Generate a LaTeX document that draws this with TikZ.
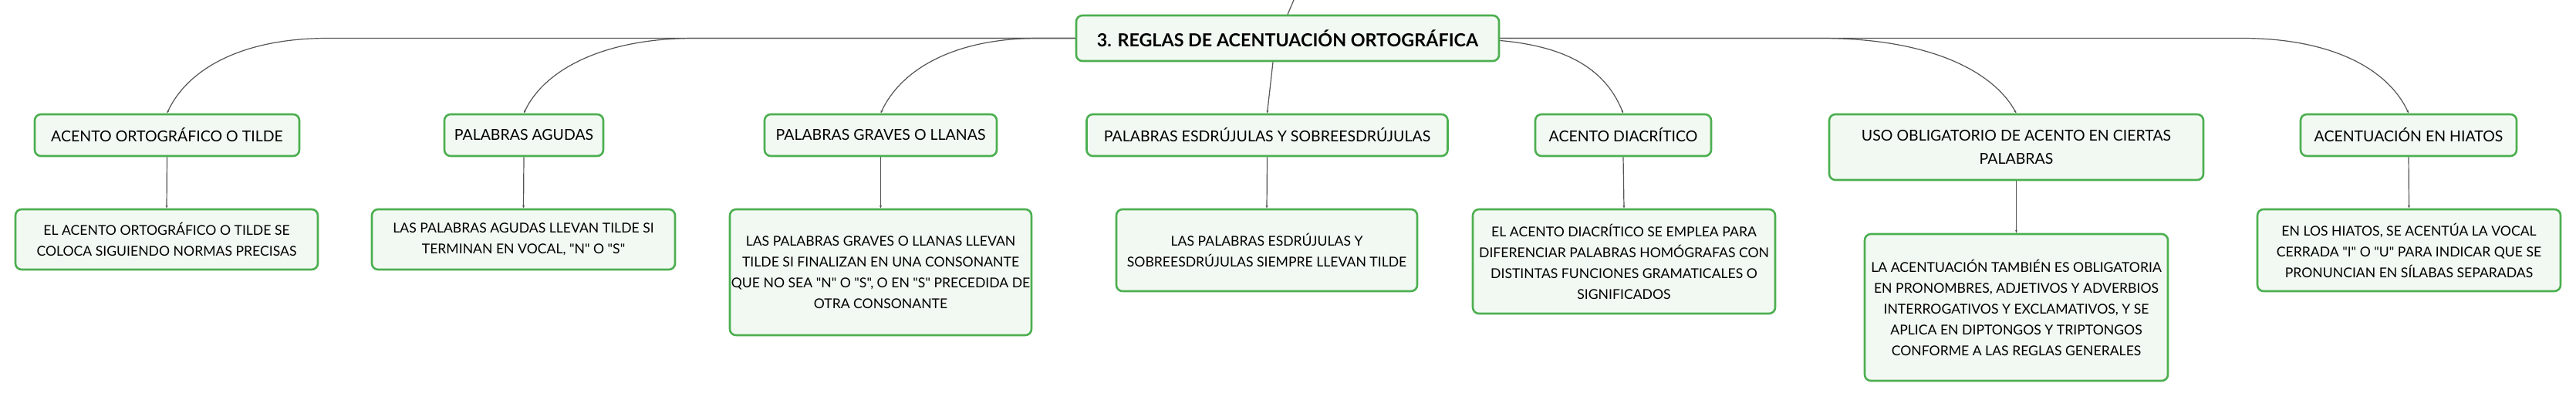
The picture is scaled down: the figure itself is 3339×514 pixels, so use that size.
\documentclass[tikz,border=0pt]{standalone}
\usepackage{fontspec}
\setmainfont{Lato}[Ligatures=TeXOff]
\usetikzlibrary{arrows.meta}
\definecolor{bgreen}{HTML}{4CAF50}
\definecolor{bfill}{HTML}{F2F9F2}
\definecolor{lgray}{HTML}{555555}
\begin{document}
\begin{tikzpicture}[x=1pt,y=-1pt,
  box/.style={draw=bgreen, fill=bfill, line width=2.6pt, rounded corners=8pt, inner sep=0pt, align=center, text=black},
  rootbox/.style={box, font=\bfseries\fontsize{23.3}{28}\selectfont},
  topic/.style={box, font=\fontsize{19.5}{30}\selectfont},
  note/.style={box, font=\fontsize{17.6}{27}\selectfont},
  plain/.style={draw=lgray, line width=1.2pt},
  conn/.style={plain, -{Stealth[length=4pt,width=3pt]}},
  ]
\useasboundingbox (0,0) rectangle (3339,514);
% root
\node[rootbox, minimum width=548pt, minimum height=59pt] (root) at (1669,49.5) {3. REGLAS DE ACENTUACIÓN ORTOGRÁFICA};
% level 1
\node[topic, minimum width=343pt, minimum height=54pt] (b1) at (216.5,175) {ACENTO ORTOGRÁFICO O TILDE};
\node[topic, minimum width=206pt, minimum height=54pt] (b2) at (679,175) {PALABRAS AGUDAS};
\node[topic, minimum width=301pt, minimum height=54pt] (b3) at (1141.5,175) {PALABRAS GRAVES O LLANAS};
\node[topic, minimum width=468pt, minimum height=54pt] (b4) at (1642.5,175) {PALABRAS ESDRÚJULAS Y SOBREESDRÚJULAS};
\node[topic, minimum width=228pt, minimum height=54pt] (b5) at (2104,175) {ACENTO DIACRÍTICO};
\node[topic, minimum width=485pt, minimum height=85pt] (b6) at (2613.5,190.5) {USO OBLIGATORIO DE ACENTO EN CIERTAS\\PALABRAS};
\node[topic, minimum width=280pt, minimum height=54pt] (b7) at (3122,175) {ACENTUACIÓN EN HIATOS};
% level 2
\node[note, minimum width=392pt, minimum height=78pt] (d1) at (216,310) {EL ACENTO ORTOGRÁFICO O TILDE SE\\COLOCA SIGUIENDO NORMAS PRECISAS};
\node[note, minimum width=393pt, minimum height=78pt] (d2) at (678.5,310) {LAS PALABRAS AGUDAS LLEVAN TILDE SI\\TERMINAN EN VOCAL, "N" O "S"};
\node[note, minimum width=391pt, minimum height=163pt] (d3) at (1141.5,352.5) {LAS PALABRAS GRAVES O LLANAS LLEVAN\\TILDE SI FINALIZAN EN UNA CONSONANTE\\QUE NO SEA "N" O "S", O EN "S" PRECEDIDA DE\\OTRA CONSONANTE};
\node[note, minimum width=390pt, minimum height=106pt] (d4) at (1642,324) {LAS PALABRAS ESDRÚJULAS Y\\SOBREESDRÚJULAS SIEMPRE LLEVAN TILDE};
\node[note, minimum width=392pt, minimum height=135pt] (d5) at (2105,338.5) {EL ACENTO DIACRÍTICO SE EMPLEA PARA\\DIFERENCIAR PALABRAS HOMÓGRAFAS CON\\DISTINTAS FUNCIONES GRAMATICALES O\\SIGNIFICADOS};
\node[note, minimum width=393pt, minimum height=190pt] (d6) at (2613.5,398) {LA ACENTUACIÓN TAMBIÉN ES OBLIGATORIA\\EN PRONOMBRES, ADJETIVOS Y ADVERBIOS\\INTERROGATIVOS Y EXCLAMATIVOS, Y SE\\APLICA EN DIPTONGOS Y TRIPTONGOS\\CONFORME A LAS REGLAS GENERALES};
\node[note, minimum width=393pt, minimum height=106pt] (d7) at (3122.5,324) {EN LOS HIATOS, SE ACENTÚA LA VOCAL\\CERRADA "I" O "U" PARA INDICAR QUE SE\\PRONUNCIAN EN SÍLABAS SEPARADAS};
% bend points
\coordinate (up) at (1677,0);
\coordinate (cl1) at (425,49.5);
\coordinate (cl2) at (900,49.5);
\coordinate (cl3) at (1346,49.5);
\coordinate (cr6) at (2360,49.5);
\coordinate (cr7) at (2906,49.5);
% connectors
\draw[plain] (up) -- (root.north);
\draw[conn] (root.west) -- (cl1) .. controls +(-115,0) and +(25,-55) .. (b1.north);
\draw[conn] (root.west) -- (cl2) .. controls +(-120,0) and +(25,-55) .. (b2.north);
\draw[conn] (root.west) -- (cl3) .. controls +(-112,0) and +(25,-55) .. (b3.north);
\draw[conn] ([xshift=-19pt]root.south) -- (b4.north);
\draw[conn] ([yshift=-3pt]root.east) .. controls +(90,8) and +(-22,-55) .. (b5.north);
\draw[conn] (root.east) -- (cr6) .. controls +(140,0) and +(-30,-55) .. (b6.north);
\draw[conn] (root.east) -- (cr7) .. controls +(120,0) and +(-25,-55) .. (b7.north);
\foreach \i in {1,...,7} {\draw[conn] (b\i.south) -- (d\i.north);}
\end{tikzpicture}
\end{document}
